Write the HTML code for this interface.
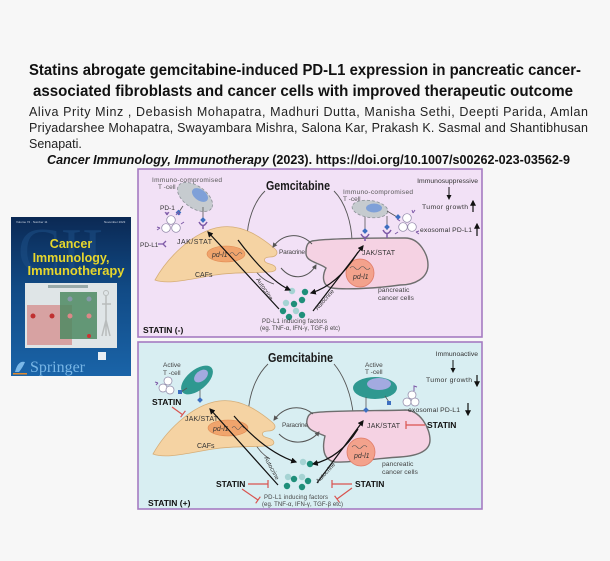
<!DOCTYPE html>
<html><head><meta charset="utf-8"><style>
html,body{margin:0;padding:0;background:#f7f7f7;}
svg{display:block;}
text{font-family:"Liberation Sans",sans-serif;}
</style></head><body>
<svg width="610" height="561" viewBox="0 0 610 561" xmlns="http://www.w3.org/2000/svg">
<defs>
<marker id="ak" viewBox="0 0 10 10" refX="8" refY="5" markerWidth="5" markerHeight="5" orient="auto"><path d="M0,0 L10,5 L0,10 z" fill="#111"/></marker>
<marker id="ag" viewBox="0 0 10 10" refX="8" refY="5" markerWidth="5" markerHeight="5" orient="auto"><path d="M0,0 L10,5 L0,10 z" fill="#555"/></marker>
<linearGradient id="cov" x1="0" y1="0" x2="0" y2="1"><stop offset="0" stop-color="#0b2954"/><stop offset="0.45" stop-color="#114a85"/><stop offset="1" stop-color="#1a64a8"/></linearGradient>
<path id="caf" d="M 155 280 C 166 260, 192 231, 221 227 C 243 224, 262 238, 274 248 C 280 253, 276 257, 270 257 C 263 257, 262 262, 270 264 C 278 266, 278 272, 269 272 C 250 273, 235 272, 215 275 C 190 279, 168 285, 155 280 Z"/>
</defs>
<rect width="610" height="561" fill="#f7f7f7"/>

<!-- Header text -->
<text x="29" y="75" font-size="16" font-weight="bold" textLength="552" lengthAdjust="spacingAndGlyphs" fill="#111">Statins abrogate gemcitabine-induced PD-L1 expression in pancreatic cancer-</text>
<text x="33" y="96" font-size="16" font-weight="bold" textLength="540" lengthAdjust="spacingAndGlyphs" fill="#111">associated fibroblasts and cancer cells with improved therapeutic outcome</text>
<text x="29" y="116" font-size="12.5" textLength="559" lengthAdjust="spacing" fill="#222">Aliva Prity Minz , Debasish Mohapatra, Madhuri Dutta, Manisha Sethi, Deepti Parida, Amlan</text>
<text x="29" y="132" font-size="12.5" textLength="559" lengthAdjust="spacing" fill="#222">Priyadarshee Mohapatra, Swayambara Mishra, Salona Kar, Prakash K. Sasmal and Shantibhusan</text>
<text x="29" y="148" font-size="12.5" fill="#222">Senapati.</text>
<text x="47" y="164" font-size="13" font-weight="bold" textLength="523" lengthAdjust="spacingAndGlyphs" fill="#111"><tspan font-style="italic">Cancer Immunology, Immunotherapy</tspan> (2023). https://doi.org/10.1007/s00262-023-03562-9</text>

<!-- Book cover -->
<rect x="11" y="217" width="120" height="159" fill="url(#cov)"/>
<text x="18" y="272" font-size="64" style="font-family:'Liberation Serif',serif" fill="#1d4f86" opacity="0.55">CII</text>
<text x="16" y="223" font-size="3" fill="#cfd8e6">Volume 72 · Number 11</text>
<text x="104" y="223" font-size="3" fill="#cfd8e6">November 2023</text>
<text x="71" y="248" font-size="12.5" font-weight="bold" fill="#e6d62c" text-anchor="middle">Cancer</text>
<text x="71" y="262" font-size="12.5" font-weight="bold" fill="#e6d62c" text-anchor="middle">Immunology,</text>
<text x="76" y="275" font-size="12.5" font-weight="bold" fill="#e6d62c" text-anchor="middle" textLength="97" lengthAdjust="spacingAndGlyphs">Immunotherapy</text>
<rect x="25" y="283" width="92" height="65" fill="#dfe5e7"/>
<rect x="48" y="285" width="40" height="3" fill="#9aa"/>
<rect x="27" y="305" width="45" height="40" fill="#d7a2a2"/>
<rect x="60" y="292" width="37" height="47" fill="#4e8a62" opacity="0.85"/>
<circle cx="33" cy="316" r="2.5" fill="#c03030"/>
<circle cx="52" cy="316" r="2.5" fill="#c03030"/>
<circle cx="70" cy="316" r="2.5" fill="#d88"/>
<circle cx="89" cy="316" r="2.5" fill="#d88"/>
<circle cx="70" cy="299" r="2.5" fill="#89a"/>
<circle cx="89" cy="299" r="2.5" fill="#89a"/>
<circle cx="89" cy="336" r="2" fill="#c33"/>
<path d="M106 296 v40 M102 304 h9 M106 320 l-4 16 M106 320 l4 16" stroke="#b8bcbc" stroke-width="1.5" fill="none"/>
<circle cx="106" cy="293" r="2.5" fill="none" stroke="#b8bcbc"/>
<path d="M15 372 q3 -12 10 -10 q-2 5 -6 10z" fill="#7ab8e8"/>
<rect x="13" y="373" width="14" height="1.5" fill="#e08a30"/>
<text x="30" y="372" font-size="16" style="font-family:'Liberation Serif',serif" fill="#78b6e6" textLength="55" lengthAdjust="spacingAndGlyphs">Springer</text>
<rect x="98" y="352" width="8" height="8" fill="#e8eef4"/>

<!-- TOP PANEL -->
<rect x="138" y="169" width="344" height="168" fill="#f2e1f6" stroke="#a57bc2" stroke-width="1.6"/>
<path d="M 265 191 C 243 212, 236 272, 274 284" stroke="#555" stroke-width="0.9" fill="none"/>
<path d="M 334 191 C 357 214, 358 272, 338 288" stroke="#555" stroke-width="0.9" fill="none"/>
<text x="266" y="190" font-size="12.5" font-weight="bold" fill="#1a1a1a" textLength="64" lengthAdjust="spacingAndGlyphs">Gemcitabine</text>
<use href="#caf" fill="#f5d3a3" stroke="#d6ae78" stroke-width="0.8"/>
<ellipse cx="226" cy="254" rx="19" ry="8" fill="#f0a46c" stroke="#e08850" stroke-width="0.6"/>
<text x="212" y="257" font-size="7" font-style="italic" fill="#333">pd-l1</text>
<path d="M230 254 q2 -3 4 0 t4 0 t4 0" stroke="#555" stroke-width="0.6" fill="none"/>
<text x="177" y="244" font-size="7" fill="#333" textLength="35">JAK/STAT</text>
<text x="195" y="277" font-size="7" fill="#333">CAFs</text>
<path d="M 312 241 C 330 238, 380 238, 405 238 C 420 238, 428 255, 428 265 C 428 278, 415 285, 400 285 C 380 288, 345 290, 332 288 C 322 286, 322 276, 326 268 C 318 262, 305 262, 306 252 C 306 244, 309 242, 312 241 Z" fill="#f5d2e3" stroke="#6e6e6e" stroke-width="1.4"/>
<circle cx="360" cy="273" r="14" fill="#f3a28c" stroke="#e07a66" stroke-width="0.8"/>
<path d="M350 268 q2.5 -3 5 0 t5 0 t5 0 t5 0" stroke="#555" stroke-width="0.6" fill="none"/>
<text x="353" y="279" font-size="7" font-style="italic" fill="#333">pd-l1</text>
<text x="362" y="255" font-size="7" fill="#333" textLength="33">JAK/STAT</text>
<text x="378" y="292" font-size="6.8" fill="#444">pancreatic</text>
<text x="378" y="300" font-size="6.8" fill="#444">cancer cells</text>
<text x="279" y="254" font-size="6.5" fill="#444" textLength="26">Paracrine</text>
<path d="M 312 244 C 300 232, 283 233, 273 247" stroke="#555" stroke-width="1" fill="none" marker-end="url(#ag)"/>
<path d="M 281 268 C 292 281, 308 279, 316 265" stroke="#555" stroke-width="1" fill="none" marker-end="url(#ag)"/>
<text x="152" y="182" font-size="6.5" fill="#555" textLength="70">Immuno-compromised</text>
<text x="158" y="189" font-size="6.5" fill="#555">T -cell</text>
<ellipse cx="195" cy="197" rx="20" ry="11" transform="rotate(35 195 197)" fill="#c6cbcf" stroke="#8a9096" stroke-width="0.8" stroke-dasharray="3 2"/>
<ellipse cx="200" cy="195" rx="9" ry="5.5" transform="rotate(35 200 195)" fill="#7fa0d8"/>
<path d="M183 206 L179 212 M203 207 V219" stroke="#555" stroke-width="0.8"/>
<rect x="176.5" y="210.5" width="4" height="4" transform="rotate(45 178.5 212.5)" fill="#3d6fc0"/>
<rect x="201" y="218" width="4" height="4" transform="rotate(45 203 220)" fill="#3d6fc0"/>
<path d="M199 222 Q203 229 207 222 M203 226 V229" stroke="#7e5aa8" stroke-width="1.5" fill="none"/>
<text x="160" y="210" font-size="6.5" fill="#333">PD-1</text>
<circle cx="171" cy="220" r="4.3" fill="#fff" stroke="#8e86a6" stroke-width="0.7"/>
<circle cx="166" cy="228" r="4.3" fill="#fff" stroke="#8e86a6" stroke-width="0.7"/>
<circle cx="176" cy="228" r="4.3" fill="#fff" stroke="#8e86a6" stroke-width="0.7"/>
<path d="M167 215 l-2 -3 M167 215 l2 -3 M167 215 v-3 M160 228 l-3 -1 M160 228 l-3 2 M181 224 l3 -2 M180 215 l-2 -3 l-2 3" stroke="#7e5aa8" stroke-width="1" fill="none"/>
<text x="140" y="247" font-size="6.5" fill="#333">PD-L1</text>
<path d="M158 244 h5 M163 244 l3 -3 M163 244 l3 3" stroke="#7e5aa8" stroke-width="1.3" fill="none"/>
<text x="343" y="194" font-size="6.5" fill="#555" textLength="70">Immuno-compromised</text>
<text x="343" y="201" font-size="6.5" fill="#555">T -cell</text>
<ellipse cx="370" cy="209" rx="18" ry="8.5" transform="rotate(8 370 209)" fill="#c6cbcf" stroke="#8a9096" stroke-width="0.8" stroke-dasharray="3 2"/>
<ellipse cx="374" cy="208" rx="8" ry="4.5" fill="#7fa0d8"/>
<path d="M365 217 V233 M387 216 V230 M387 211 L397 217" stroke="#555" stroke-width="0.8"/>
<rect x="363" y="229" width="4" height="4" transform="rotate(45 365 231)" fill="#3d6fc0"/>
<rect x="385" y="225" width="4" height="4" transform="rotate(45 387 227)" fill="#3d6fc0"/>
<rect x="396" y="215" width="4" height="4" transform="rotate(45 398 217)" fill="#3d6fc0"/>
<path d="M361 234 Q365 241 369 234 M365 238 V241 M383 230 Q387 237 391 230 M387 234 V238" stroke="#7e5aa8" stroke-width="1.5" fill="none"/>
<circle cx="407" cy="218" r="4.3" fill="#fff" stroke="#8e86a6" stroke-width="0.7"/>
<circle cx="403" cy="227" r="4.3" fill="#fff" stroke="#8e86a6" stroke-width="0.7"/>
<circle cx="412" cy="227" r="4.3" fill="#fff" stroke="#8e86a6" stroke-width="0.7"/>
<path d="M413 213 l2 -3 M413 213 l-1 -3 M416 232 l3 2 M416 232 l3 -1 M398 232 l-3 2 M400 221 l-3 -2" stroke="#7e5aa8" stroke-width="1" fill="none"/>
<text x="478" y="183" font-size="6.8" fill="#333" text-anchor="end">Immunosuppressive</text>
<path d="M449 187 V199" stroke="#111" stroke-width="1" marker-end="url(#ak)"/>
<text x="422" y="209" font-size="6.8" fill="#333" textLength="46">Tumor growth</text>
<path d="M473 212 V201" stroke="#111" stroke-width="1.2" marker-end="url(#ak)"/>
<text x="420" y="232" font-size="6.8" fill="#333" textLength="52">exosomal PD-L1</text>
<path d="M477 236 V224" stroke="#111" stroke-width="1.2" marker-end="url(#ak)"/>
<g>
<circle cx="292" cy="291" r="3.2" fill="#a5d3d3"/><circle cx="305" cy="292" r="3.2" fill="#1f8f7a"/>
<circle cx="302" cy="300" r="3.2" fill="#1f8f7a"/><circle cx="286" cy="303" r="3.2" fill="#a5d3d3"/>
<circle cx="294" cy="304" r="3.2" fill="#1f8f7a"/><circle cx="283" cy="311" r="3.2" fill="#1f8f7a"/>
<circle cx="296" cy="311" r="3.2" fill="#a5d3d3"/><circle cx="302" cy="315" r="3.2" fill="#1f8f7a"/>
<circle cx="289" cy="317" r="3.2" fill="#1f8f7a"/>
</g>
<text x="262" y="323" font-size="6" fill="#444" textLength="65">PD-L1 inducing factors</text>
<text x="260" y="330" font-size="6" fill="#444" textLength="80">(eg. TNF-α, IFN-γ, TGF-β etc)</text>
<path d="M 279 309 L 208 232" stroke="#111" stroke-width="1.2" fill="none" marker-end="url(#ak)"/>
<path d="M 238 240 Q 268 280 290 290" stroke="#111" stroke-width="1.2" fill="none" marker-end="url(#ak)"/>
<path d="M 313 311 L 363 246" stroke="#111" stroke-width="1.2" fill="none" marker-end="url(#ak)"/>
<path d="M 358 252 Q 338 285 311 293" stroke="#111" stroke-width="1.2" fill="none" marker-end="url(#ak)"/>
<text transform="translate(263 290) rotate(56)" font-size="6" fill="#333" text-anchor="middle">Autocrine</text>
<text transform="translate(326 301) rotate(-48)" font-size="6" fill="#333" text-anchor="middle">Autocrine</text>
<text x="143" y="333" font-size="8.5" font-weight="bold" fill="#111">STATIN (-)</text>

<!-- BOTTOM PANEL -->
<rect x="138" y="342" width="344" height="167" fill="#d8eef2" stroke="#a57bc2" stroke-width="1.6"/>
<path d="M 268 364 C 245 386, 238 440, 270 459" stroke="#555" stroke-width="0.9" fill="none"/>
<path d="M 334 364 C 356 390, 360 442, 345 462" stroke="#555" stroke-width="0.9" fill="none"/>
<text x="268" y="362" font-size="12.5" font-weight="bold" fill="#1a1a1a" textLength="65" lengthAdjust="spacingAndGlyphs">Gemcitabine</text>
<use href="#caf" transform="translate(-2 174)" fill="#f5d3a3" stroke="#d6ae78" stroke-width="0.8"/>
<ellipse cx="228" cy="428" rx="20" ry="8" fill="#f0a46c" stroke="#e08850" stroke-width="0.6"/>
<text x="213" y="431" font-size="7" font-style="italic" fill="#333">pd-l1</text>
<path d="M232 428 q2 -3 4 0 t4 0 t4 0" stroke="#555" stroke-width="0.6" fill="none"/>
<text x="185" y="421" font-size="7" fill="#333" textLength="33">JAK/STAT</text>
<text x="197" y="448" font-size="7" fill="#333">CAFs</text>
<path d="M 312 413 C 330 410, 385 411, 405 410 C 420 410, 430 428, 430 440 C 430 452, 415 456, 400 457 C 380 458, 348 463, 335 462 C 323 460, 322 448, 325 436 C 316 432, 305 430, 307 420 C 308 415, 310 414, 312 413 Z" fill="#f5d2e3" stroke="#6e6e6e" stroke-width="1.4"/>
<circle cx="361" cy="452" r="14" fill="#f3a28c" stroke="#e07a66" stroke-width="0.8"/>
<path d="M352 447 q2.5 -3 5 0 t5 0 t5 0" stroke="#555" stroke-width="0.6" fill="none"/>
<text x="354" y="458" font-size="7" font-style="italic" fill="#333">pd-l1</text>
<text x="367" y="428" font-size="7" fill="#333" textLength="33">JAK/STAT</text>
<text x="382" y="466" font-size="6.8" fill="#444">pancreatic</text>
<text x="382" y="474" font-size="6.8" fill="#444">cancer cells</text>
<text x="282" y="427" font-size="6.5" fill="#444" textLength="26">Paracrine</text>
<path d="M 313 414 C 301 404, 284 406, 274 420" stroke="#555" stroke-width="1" fill="none" marker-end="url(#ag)"/>
<path d="M 279 434 C 291 446, 309 444, 319 432" stroke="#555" stroke-width="1" fill="none" marker-end="url(#ag)"/>
<text x="163" y="367" font-size="6.5" fill="#444">Active</text>
<text x="163" y="375" font-size="6.5" fill="#444">T -cell</text>
<ellipse cx="197" cy="380" rx="19" ry="10" transform="rotate(-40 197 380)" fill="#2f9890"/>
<ellipse cx="201" cy="376" rx="8" ry="5" transform="rotate(-40 201 376)" fill="#a3aae0"/>
<path d="M187 388 L181 392 M200 390 V399" stroke="#555" stroke-width="0.8"/>
<rect x="178" y="390" width="4" height="4" fill="#3d6fc0"/>
<rect x="198" y="398" width="4" height="4" transform="rotate(45 200 400)" fill="#3d6fc0"/>
<circle cx="168" cy="381" r="4" fill="#fff" stroke="#8e86a6" stroke-width="0.7"/>
<circle cx="163" cy="388" r="4" fill="#fff" stroke="#8e86a6" stroke-width="0.7"/>
<circle cx="170" cy="390" r="4" fill="#fff" stroke="#8e86a6" stroke-width="0.7"/>
<path d="M158 383 l-3 -1 M158 383 l-2 2" stroke="#7e5aa8" stroke-width="1" fill="none"/>
<text x="152" y="405" font-size="8.5" font-weight="bold" fill="#111">STATIN</text>
<path d="M172 407 L183 415 M180.6 417.2 L185.4 410.8" stroke="#d9534f" stroke-width="1.2"/>
<text x="365" y="367" font-size="6.5" fill="#444">Active</text>
<text x="365" y="374" font-size="6.5" fill="#444">T -cell</text>
<ellipse cx="375" cy="388" rx="22" ry="11" fill="#2f9890"/>
<ellipse cx="379" cy="384" rx="12" ry="6" fill="#a3aae0"/>
<path d="M366 397 V409 M385 396 L389 402" stroke="#555" stroke-width="0.8"/>
<rect x="364" y="408" width="4" height="4" transform="rotate(45 366 410)" fill="#3d6fc0"/>
<rect x="387" y="401" width="4" height="4" fill="#3d6fc0"/>
<circle cx="412" cy="395" r="4" fill="#fff" stroke="#8e86a6" stroke-width="0.7"/>
<circle cx="407" cy="402" r="4" fill="#fff" stroke="#8e86a6" stroke-width="0.7"/>
<circle cx="415" cy="402" r="4" fill="#fff" stroke="#8e86a6" stroke-width="0.7"/>
<path d="M414 391 V386 l3 1" stroke="#7e5aa8" stroke-width="1" fill="none"/>
<text x="478" y="356" font-size="6.8" fill="#333" text-anchor="end">Immunoactive</text>
<path d="M453 360 V372" stroke="#111" stroke-width="1" marker-end="url(#ak)"/>
<text x="426" y="382" font-size="6.8" fill="#333" textLength="46">Tumor growth</text>
<path d="M477 375 V386" stroke="#111" stroke-width="1.2" marker-end="url(#ak)"/>
<text x="408" y="412" font-size="6.8" fill="#333" textLength="52">exosomal PD-L1</text>
<path d="M468 403 V415" stroke="#111" stroke-width="1.2" marker-end="url(#ak)"/>
<text x="427" y="428" font-size="8.5" font-weight="bold" fill="#111">STATIN</text>
<path d="M425 425 H406 M406 421 V429" stroke="#d9534f" stroke-width="1.2"/>
<g>
<circle cx="303" cy="462" r="3.2" fill="#a5d3d3"/><circle cx="310" cy="464" r="3.2" fill="#1f8f7a"/>
<circle cx="288" cy="477" r="3.2" fill="#a5d3d3"/><circle cx="294" cy="479" r="3.2" fill="#1f8f7a"/>
<circle cx="302" cy="477" r="3.2" fill="#a5d3d3"/><circle cx="308" cy="481" r="3.2" fill="#1f8f7a"/>
<circle cx="287" cy="486" r="3.2" fill="#1f8f7a"/><circle cx="302" cy="487" r="3.2" fill="#1f8f7a"/>
</g>
<text x="264" y="499" font-size="6" fill="#444" textLength="64">PD-L1 inducing factors</text>
<text x="262" y="506" font-size="6" fill="#444" textLength="81">(eg. TNF-α, IFN-γ, TGF-β etc)</text>
<path d="M 278 485 L 210 409" stroke="#111" stroke-width="1.2" fill="none" marker-end="url(#ak)"/>
<path d="M 234 416 Q 265 452 296 462" stroke="#111" stroke-width="1.2" fill="none" marker-end="url(#ak)"/>
<path d="M 317 483 L 363 421" stroke="#111" stroke-width="1.2" fill="none" marker-end="url(#ak)"/>
<path d="M 358 429 Q 340 458 313 464" stroke="#111" stroke-width="1.2" fill="none" marker-end="url(#ak)"/>
<text transform="translate(270 469) rotate(62)" font-size="6" fill="#333" text-anchor="middle">Autocrine</text>
<text transform="translate(327 474) rotate(-47)" font-size="6" fill="#333" text-anchor="middle">Autocrine</text>
<text x="216" y="487" font-size="8.5" font-weight="bold" fill="#111">STATIN</text>
<path d="M248 484 H268 M268 480 V488 M242 489 L258 500 M255.7 503.3 L260.3 496.7" stroke="#d9534f" stroke-width="1.2"/>
<text x="355" y="487" font-size="8.5" font-weight="bold" fill="#111">STATIN</text>
<path d="M352 484 H332 M332 480 V488 M352 488 L337 499 M334.6 495.8 L339.4 502.2" stroke="#d9534f" stroke-width="1.2"/>
<text x="148" y="506" font-size="8.5" font-weight="bold" fill="#111">STATIN (+)</text>
</svg>
</body></html>
